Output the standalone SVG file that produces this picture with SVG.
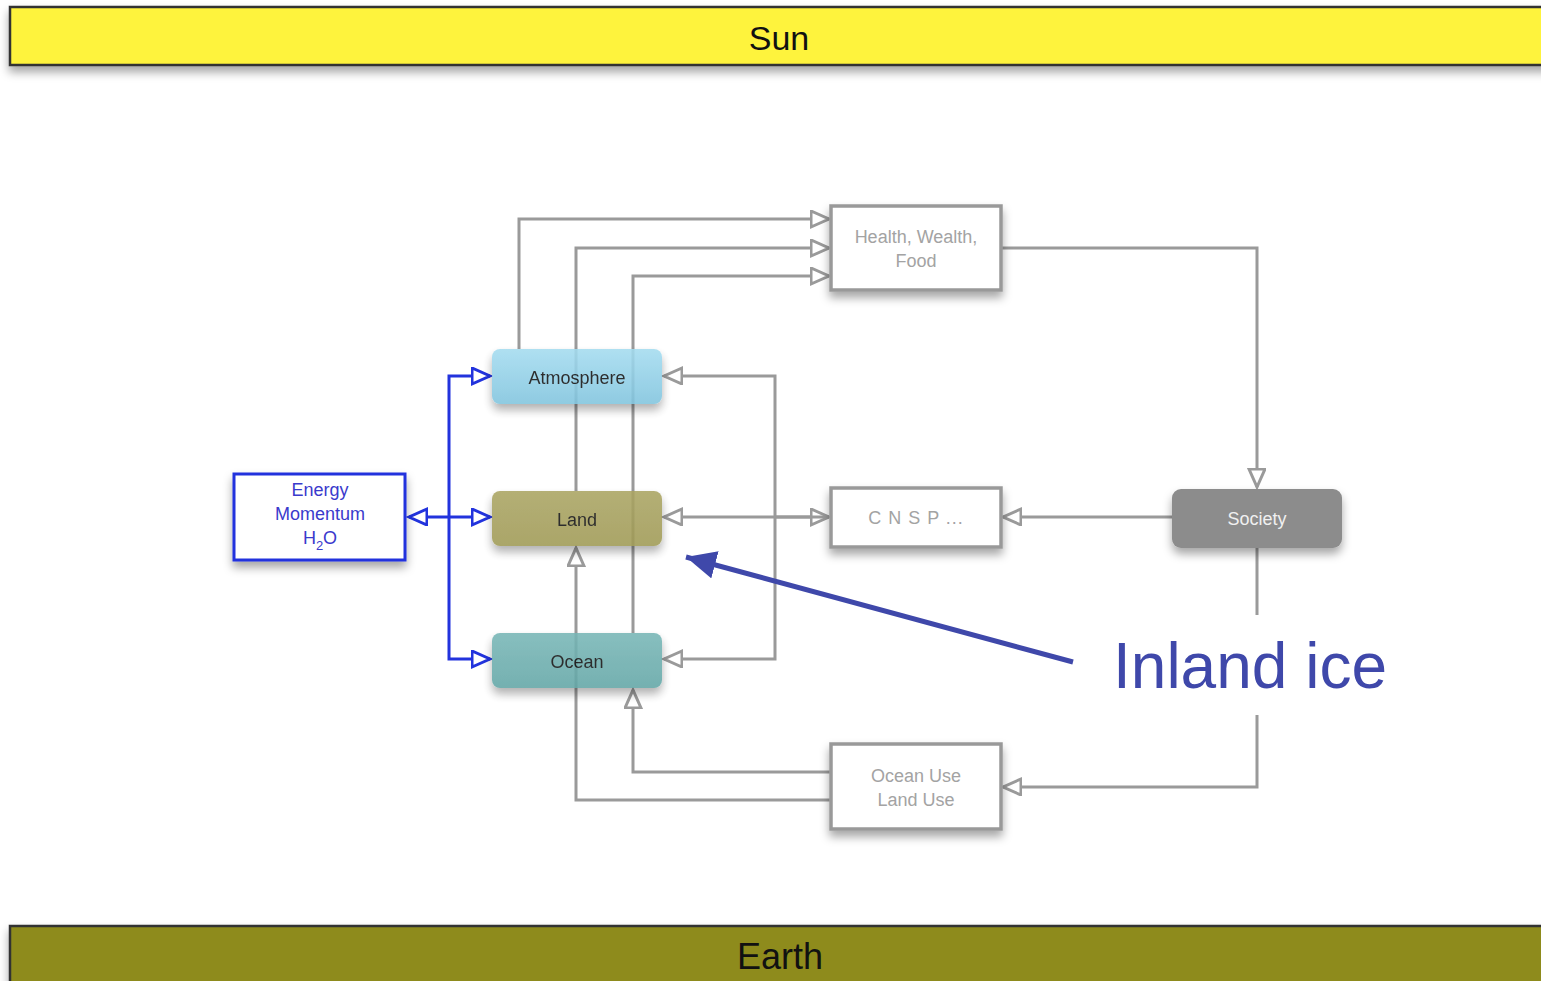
<svg xmlns="http://www.w3.org/2000/svg" width="1541" height="981" viewBox="0 0 1541 981">
<style>
.bar{stroke:#333;stroke-width:2.5}
.box{fill:#fff;stroke:#999;stroke-width:3.5}
.lbl{font-family:"Liberation Sans",Arial,sans-serif;font-size:18px;text-anchor:middle}
.grey{fill:#a3a3a3}
.con{fill:none;stroke:#9a9a9a;stroke-width:3}
.blue{fill:none;stroke:#2233dd;stroke-width:3}
</style>
<defs>
<filter id="sh" x="-20%" y="-30%" width="140%" height="170%">
<feDropShadow dx="0" dy="6" stdDeviation="5" flood-color="#000" flood-opacity="0.35"/>
</filter>
<marker id="ag" markerUnits="userSpaceOnUse" markerWidth="22" markerHeight="20" refX="19" refY="9" orient="auto">
<path d="M1,1 L19,9 L1,17 z" fill="#fff" stroke="#9a9a9a" stroke-width="3"/>
</marker>
<marker id="ab" markerUnits="userSpaceOnUse" markerWidth="22" markerHeight="20" refX="19" refY="9" orient="auto">
<path d="M1,1 L19,9 L1,17 z" fill="#fff" stroke="#2233dd" stroke-width="3"/>
</marker>
<marker id="af" markerUnits="userSpaceOnUse" markerWidth="34" markerHeight="30" refX="30" refY="14" orient="auto">
<path d="M0,0 L30,14 L0,28 z" fill="#3f48aa"/>
</marker>
<linearGradient id="gA" x1="0" y1="0" x2="0" y2="1"><stop offset="0" stop-color="#a4dcf0"/><stop offset="1" stop-color="#80c4de"/></linearGradient>
<linearGradient id="gL" x1="0" y1="0" x2="0" y2="1"><stop offset="0" stop-color="#aaa462"/><stop offset="1" stop-color="#9f9a55"/></linearGradient>
<linearGradient id="gO" x1="0" y1="0" x2="0" y2="1"><stop offset="0" stop-color="#77b6b6"/><stop offset="1" stop-color="#62a6a6"/></linearGradient>
</defs>
<rect width="1541" height="981" fill="#fff"/>

<g id="sun">
<rect class="bar" x="10" y="7" width="1545" height="58" fill="#fef33c" filter="url(#sh)"/>
<text x="779" y="50" font-family="Liberation Sans,Arial,sans-serif" font-size="34" text-anchor="middle" fill="#111">Sun</text>
</g>
<g id="earth">
<rect class="bar" x="10" y="926" width="1545" height="70" fill="#8e8b1e" filter="url(#sh)"/>
<text x="780" y="969" font-family="Liberation Sans,Arial,sans-serif" font-size="36" text-anchor="middle" fill="#111">Earth</text>
</g>

<g id="connectors">
<path class="con" d="M519,349 V219 H829" marker-end="url(#ag)"/>
<path class="con" d="M576,491 V248 H829" marker-end="url(#ag)"/>
<path class="con" d="M633,633 V276 H829" marker-end="url(#ag)"/>
<path class="con" d="M1001,248 H1257 V487" marker-end="url(#ag)"/>
<path class="con" d="M1172,517 H1003" marker-end="url(#ag)"/>
<path class="con" d="M775,517 H829" marker-end="url(#ag)"/>
<path class="con" d="M829,517 H664" marker-end="url(#ag)"/>
<path class="con" d="M775,517 V376 H664" marker-end="url(#ag)"/>
<path class="con" d="M775,517 V659 H664" marker-end="url(#ag)"/>
<path class="con" d="M1257,548 V787 H1003" marker-end="url(#ag)"/>
<path class="con" d="M831,800 H576 V548" marker-end="url(#ag)"/>
<path class="con" d="M831,772 H633 V690" marker-end="url(#ag)"/>
<path class="blue" d="M449,517 H409" marker-end="url(#ab)"/>
<path class="blue" d="M449,517 H490" marker-end="url(#ab)"/>
<path class="blue" d="M449,517 V376 H490" marker-end="url(#ab)"/>
<path class="blue" d="M449,517 V659 H490" marker-end="url(#ab)"/>
</g>

<g id="health">
<rect class="box" x="831" y="206" width="170" height="84" filter="url(#sh)"/>
<text class="lbl grey" x="916" y="243">Health, Wealth,</text>
<text class="lbl grey" x="916" y="267">Food</text>
</g>
<g id="atmosphere" opacity="0.88">
<rect x="492" y="349" width="170" height="55" rx="8" fill="url(#gA)" filter="url(#sh)"/>
<text class="lbl" x="577" y="384" fill="#111">Atmosphere</text>
</g>
<g id="land" opacity="0.88">
<rect x="492" y="491" width="170" height="55" rx="8" fill="url(#gL)" filter="url(#sh)"/>
<text class="lbl" x="577" y="526" fill="#111">Land</text>
</g>
<g id="ocean" opacity="0.88">
<rect x="492" y="633" width="170" height="55" rx="8" fill="url(#gO)" filter="url(#sh)"/>
<text class="lbl" x="577" y="668" fill="#111">Ocean</text>
</g>
<g id="energy">
<rect x="234" y="474" width="171" height="86" fill="#fff" stroke="#2233dd" stroke-width="3" filter="url(#sh)"/>
<text class="lbl" x="320" y="496" fill="#3a3acc">Energy</text>
<text class="lbl" x="320" y="520" fill="#3a3acc">Momentum</text>
<text class="lbl" x="320" y="544" fill="#3a3acc">H<tspan font-size="13" dy="6">2</tspan><tspan dy="-6">O</tspan></text>
</g>
<g id="cnsp">
<rect class="box" x="831" y="488" width="170" height="59" filter="url(#sh)"/>
<text class="lbl grey" x="916" y="524" letter-spacing="1">C N S P ...</text>
</g>
<g id="society">
<rect x="1172" y="489" width="170" height="59" rx="9" fill="#8c8c8c" filter="url(#sh)"/>
<text class="lbl" x="1257" y="525" fill="#f0f0f0">Society</text>
</g>
<g id="use">
<rect class="box" x="831" y="744" width="170" height="85" filter="url(#sh)"/>
<text class="lbl grey" x="916" y="782">Ocean Use</text>
<text class="lbl grey" x="916" y="806">Land Use</text>
</g>

<g id="annotation">
<rect x="1100" y="615" width="300" height="100" fill="#fff"/>
<path d="M1073,662 L686,557" fill="none" stroke="#3f48aa" stroke-width="5" marker-end="url(#af)"/>
<text x="1113" y="688" font-family="Liberation Sans,Arial,sans-serif" font-size="64" fill="#3f48aa">Inland ice</text>
</g>
</svg>
